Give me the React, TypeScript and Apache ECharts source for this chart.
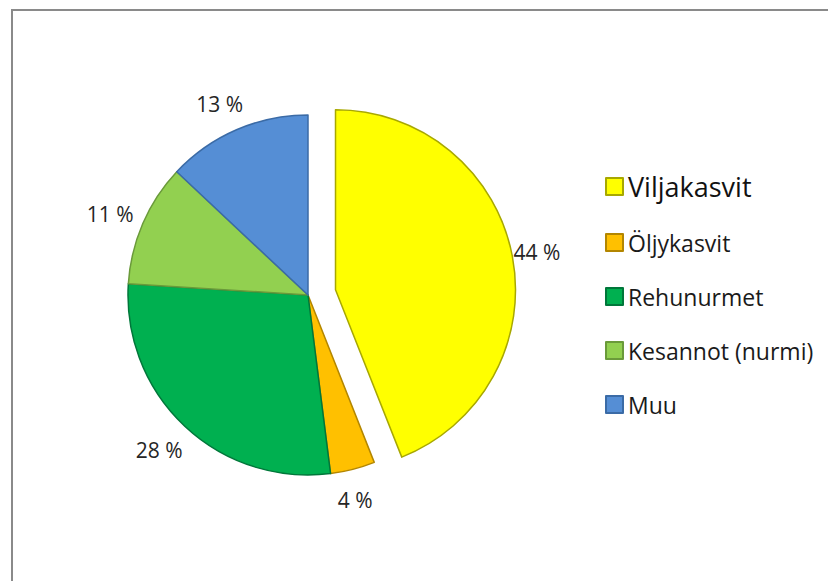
import React, { useEffect, useRef } from 'react';
import * as echarts from 'echarts';

const categories = ['Viljakasvit', 'Öljykasvit', 'Rehunurmet', 'Kesannot (nurmi)', 'Muu'];
const shares = [44, 4, 28, 11, 13];
const sliceColors = ['#FFFF00', '#FFC000', '#00B050', '#92D050', '#558ED5'];
const sliceBorders = ['#A8A800', '#B38600', '#00773A', '#6A9A3A', '#3B6BA6'];
const explodedCategory = 'Viljakasvit';

const CENTER: [number, number] = [308, 295];
const RADIUS = 180;
const OFFSET = 28;
const LABEL_R = 210;

export default function App() {
  const ref = useRef<HTMLDivElement>(null);
  useEffect(() => {
    if (!ref.current) return;
    const chart = echarts.init(ref.current, null, { renderer: 'svg' });
    const total = shares.reduce((a, b) => a + b, 0);
    const data = categories.map((name, i) => ({
      name,
      value: shares[i],
      selected: name === explodedCategory,
      itemStyle: { color: sliceColors[i], borderColor: sliceBorders[i], borderWidth: 1.5 },
    }));
    chart.setOption({
      animation: false,
      backgroundColor: '#ffffff',
      graphic: [
        {
          type: 'rect',
          silent: true,
          shape: { x: 12, y: 10, width: 1000, height: 1000 },
          style: { fill: 'none', stroke: '#8a8a8a', lineWidth: 2 },
          z: -10,
        },
      ],
      legend: {
        orient: 'vertical',
        left: 600,
        top: 168,
        itemWidth: 17,
        itemHeight: 17,
        itemGap: 31,
        icon: 'rect',
        selectedMode: false,
        formatter: (name: string) => (name === explodedCategory ? `{big|${name}}` : `{n|${name}}`),
        textStyle: {
          fontFamily: 'Open Sans',
          color: '#1a1a1a',
          rich: {
            big: { fontSize: 27, lineHeight: 30, fontFamily: 'Open Sans', color: '#111' },
            n: { fontSize: 23, lineHeight: 26, fontFamily: 'Open Sans', color: '#1a1a1a' },
          },
        },
      },
      series: [
        {
          type: 'pie',
          center: CENTER,
          radius: RADIUS,
          startAngle: 90,
          clockwise: true,
          selectedMode: 'single',
          selectedOffset: OFFSET,
          silent: true,
          emphasis: { disabled: true },
          select: { disabled: false, itemStyle: {} },
          label: {
            show: true,
            position: 'outside',
            formatter: '{c} %',
            fontFamily: 'Open Sans',
            fontSize: 21,
            color: '#262626',
          },
          labelLine: { show: false, length: 20, length2: 0 },
          labelLayout: (params: any) => {
            const i = params.dataIndex;
            let before = 0;
            for (let j = 0; j < i; j++) before += shares[j];
            const mid = ((before + shares[i] / 2) / total) * Math.PI * 2;
            let cx = CENTER[0];
            let cy = CENTER[1];
            if (categories[i] === explodedCategory) {
              cx += Math.sin(mid) * OFFSET;
              cy -= Math.cos(mid) * OFFSET;
            }
            return {
              x: cx + Math.sin(mid) * LABEL_R - 5,
              y: cy - Math.cos(mid) * LABEL_R + 2,
              align: 'center',
              verticalAlign: 'middle',
            };
          },
          data,
        },
      ],
    });
    return () => chart.dispose();
  }, []);
  return <div ref={ref} style={{ position: 'fixed', left: 0, top: 0, width: 828, height: 581 }} />;
}
